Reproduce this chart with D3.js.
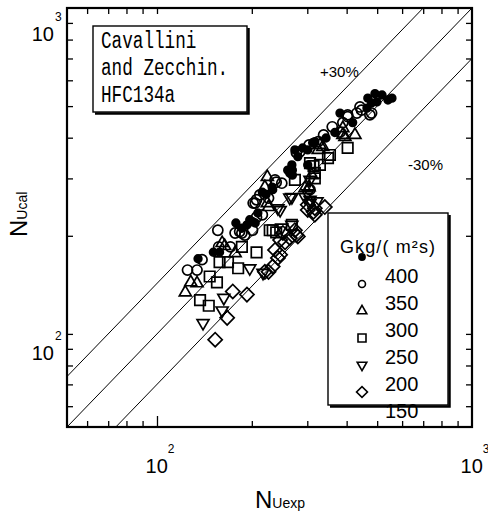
<!DOCTYPE html>
<html>
<head>
<meta charset="utf-8">
<script src="https://cdn.jsdelivr.net/npm/d3@7"></script>
<style>
  body { margin: 0; background: #fff; }
  text { font-family: "Liberation Sans", Arial, sans-serif; fill: #000; }
  text.mono { font-family: "Liberation Mono", "DejaVu Sans Mono", monospace; }
</style>
</head>
<body>
<svg id="chart" width="488" height="514"></svg>
<script>
// Nusselt numbers [Nu_exp, Nu_cal] per mass flux G, kg/(m²s)
const nu400 = [[135,170],[151,178],[158,178],[178,219],[193,216],[201,221],[186,211],[197,224],[205,219],[209,235],
  [216,272],[232,282],[233,277],[222,268],[260,318],[268,330],[269,318],[269,307],[264,311],[280,350],[290,372],
  [301,367],[301,330],[274,367],[312,386],[317,389],[344,399],[367,415],[381,476],[418,445],[464,493],[467,529],
  [492,546],[518,541],[499,515],[541,522],[480,511],[557,529]];
const nu350 = [[156,208],[177,204],[186,204],[190,201],[201,208],[183,206],[157,185],[171,185],[139,169],[125,157],
  [134,157],[207,228],[205,252],[216,232],[202,252],[212,267],[226,261],[207,258],[237,297],[249,290],[239,292],
  [277,360],[304,380],[284,362],[306,277],[325,389],[338,408],[360,432],[381,416],[389,445],[403,464],[431,476],
  [446,486],[441,497],[480,476],[474,470],[403,470]];
const nu300 = [[123,134],[128,144],[134,143],[164,186],[177,177],[161,190],[220,282],[224,303],[226,245],[224,252],
  [304,282],[295,280],[310,307],[329,380],[336,375],[325,367],[389,428],[389,408],[395,402],[425,408]];
const nu250 = [[228,208],[239,205],[233,208],[186,185],[207,178],[158,166],[168,166],[181,159],[147,150],[155,144],
  [137,127],[146,122],[268,216],[274,297],[314,327],[317,312],[329,330],[317,300],[354,354],[349,346],[306,334],[403,372]];
const nu200 = [[140,108],[161,118],[163,129],[197,159],[217,154],[242,243],[246,240],[268,263],[264,262],[268,216],
  [249,212],[295,263],[301,270],[306,252],[306,258],[306,297],[322,255]];
const nu150 = [[153,96],[167,112],[174,135],[193,132],[226,155],[233,161],[242,171],[255,191],[277,201],[246,194],
  [237,181],[246,175],[251,204],[264,197],[274,208],[280,199],[301,249],[301,240],[314,237],[317,243],[317,232],
  [341,245],[220,155]];

const fluxLabels = ["400", "350", "300", "250", "200", "150"];
const minorTicks = [60, 70, 80, 90, 200, 300, 400, 500, 600, 700, 800, 900];
const decades = [100, 1000];
const decadeExponents = ["2", "3"];
const deviationFactors = [1 / 0.7, 1, 0.7];
const deviationLabels = ["+30%", "-30%"];
const titleLines = ["Cavallini", "and Zecchin.", "HFC134a"];

const svg = d3.select("#chart");
const L = 67, R = 472, T = 8, B = 427;
const x = d3.scaleLog().domain([51.8, 1000]).range([L, R]);
const y = d3.scaleLog().domain([51.8, 1000]).range([B, T]);

svg.append("defs").append("clipPath").attr("id", "plotClip")
  .append("rect").attr("x", L).attr("y", T).attr("width", R - L).attr("height", B - T);

// ±30 % band and the parity line
const lineGen = d3.line().x(d => x(d[0])).y(d => y(d[1]));
svg.append("g").attr("clip-path", "url(#plotClip)")
  .selectAll("path").data(deviationFactors).join("path")
  .attr("d", f => lineGen([[20, 20 * f], [3000, 3000 * f]]))
  .attr("fill", "none").attr("stroke", "#000").attr("stroke-width", 1);

// inward ticks on all four sides
function tickSet(axisFn, scale, vals, len, tr) {
  svg.append("g").attr("transform", tr)
    .call(axisFn(scale).tickValues(vals).tickSize(-len).tickFormat(""))
    .call(g => g.select(".domain").remove())
    .selectAll("line").attr("stroke", "#000").attr("stroke-width", 1.3);
}
tickSet(d3.axisBottom, x, minorTicks, 6, `translate(0,${B})`);
tickSet(d3.axisBottom, x, [100], 11, `translate(0,${B})`);
tickSet(d3.axisTop, x, minorTicks.concat([100]), 6, `translate(0,${T})`);
tickSet(d3.axisLeft, y, minorTicks.concat([100]), 6, `translate(${L},0)`);
tickSet(d3.axisRight, y, minorTicks.concat([100]), 6, `translate(${R},0)`);

// frame
svg.append("rect").attr("x", L).attr("y", T).attr("width", R - L).attr("height", B - T)
  .attr("fill", "none").attr("stroke", "#000").attr("stroke-width", 2.2);

// markers
const sym = {
  circle: d3.symbol(d3.symbolCircle, 80)(),
  dot: d3.symbol(d3.symbolCircle, 46)(),
  tri: d3.symbol(d3.symbolTriangle, 62)(),
  square: d3.symbol(d3.symbolSquare, 110)(),
  diamond: d3.symbol(d3.symbolSquare, 100)()
};
const series = [
  { data: nu150, path: sym.diamond, rot: 45, fill: "none" },
  { data: nu200, path: sym.tri, rot: 180, fill: "none" },
  { data: nu250, path: sym.square, rot: 0, fill: "none" },
  { data: nu300, path: sym.tri, rot: 0, fill: "none" },
  { data: nu350, path: sym.circle, rot: 0, fill: "none" },
  { data: nu400, path: sym.dot, rot: 0, fill: "#000" }
];
const pts = svg.append("g").attr("clip-path", "url(#plotClip)");
series.forEach(s => {
  pts.append("g").selectAll("path").data(s.data).join("path")
    .attr("d", s.path)
    .attr("transform", d => `translate(${x(d[0])},${y(d[1])}) rotate(${s.rot})`)
    .attr("fill", s.fill).attr("stroke", "#000").attr("stroke-width", 1.7);
});

// decade labels
decades.forEach((v, i) => {
  const xl = svg.append("text").attr("x", x(v) + 3).attr("y", B + 46)
    .attr("text-anchor", "middle").attr("font-size", 20);
  xl.append("tspan").text("10");
  xl.append("tspan").attr("font-size", 12).attr("dy", -20).text(decadeExponents[i]);
  const yOff = v === 1000 ? 33 : 26;
  svg.append("text").attr("x", 54).attr("y", y(v) + yOff)
    .attr("text-anchor", "end").attr("font-size", 20).text("10");
  svg.append("text").attr("x", 55).attr("y", y(v) + yOff - 20)
    .attr("font-size", 12).text(decadeExponents[i]);
});

// axis titles
const xt = svg.append("text").attr("x", 255).attr("y", 508);
xt.append("tspan").attr("font-size", 24).text("N");
xt.append("tspan").attr("font-size", 14).text("Uexp");
const yt = svg.append("text").attr("transform", "translate(27,237) rotate(-90)");
yt.append("tspan").attr("font-size", 24).text("N");
yt.append("tspan").attr("font-size", 14).text("Ucal");

// band labels
svg.append("text").attr("x", 320).attr("y", 77).attr("font-size", 15).text(deviationLabels[0]);
svg.append("text").attr("x", 408).attr("y", 170).attr("font-size", 15).text(deviationLabels[1]);

// boxes with drop shadow
function shadowBox(x0, y0, x1, y1) {
  svg.append("path").attr("d", `M${x0 + 2},${y1 + 1.5}H${x1 + 1.5}V${y0 + 2}`)
    .attr("fill", "none").attr("stroke", "#000").attr("stroke-width", 2.5);
  svg.append("rect").attr("x", x0).attr("y", y0).attr("width", x1 - x0).attr("height", y1 - y0)
    .attr("fill", "#fff").attr("stroke", "#000").attr("stroke-width", 1.4);
}
shadowBox(93, 26, 247, 112);
titleLines.forEach((t, i) => {
  svg.append("text").attr("class", "mono").attr("x", 101).attr("y", 48 + i * 27)
    .attr("font-size", 23)
    .attr("textLength", t.length * 10.6).attr("lengthAdjust", "spacingAndGlyphs")
    .text(t);
});

// legend
shadowBox(328, 213, 448, 405);
svg.append("text").attr("x", 340).attr("y", 253).attr("font-size", 18)
  .attr("textLength", 95).attr("lengthAdjust", "spacing").text("Gkg/( m²s)");
const legSym = [
  { path: d3.symbol(d3.symbolCircle, 30)(), rot: 0, fill: "#000" },
  { path: d3.symbol(d3.symbolCircle, 38)(), rot: 0, fill: "none" },
  { path: d3.symbol(d3.symbolTriangle, 40)(), rot: 0, fill: "none" },
  { path: d3.symbol(d3.symbolSquare, 64)(), rot: 0, fill: "none" },
  { path: d3.symbol(d3.symbolTriangle, 40)(), rot: 180, fill: "none" },
  { path: d3.symbol(d3.symbolSquare, 60)(), rot: 45, fill: "none" }
];
const legY = d3.scaleLinear().domain([0, 5]).range([257, 392]);
const labY = d3.scaleLinear().domain([0, 5]).range([283, 418]);
fluxLabels.forEach((lab, i) => {
  svg.append("path").attr("d", legSym[i].path)
    .attr("transform", `translate(362,${legY(i)}) rotate(${legSym[i].rot})`)
    .attr("fill", legSym[i].fill).attr("stroke", "#000").attr("stroke-width", 1.6);
  svg.append("text").attr("x", 385).attr("y", labY(i)).attr("font-size", 20).text(lab);
});
</script>
</body>
</html>
